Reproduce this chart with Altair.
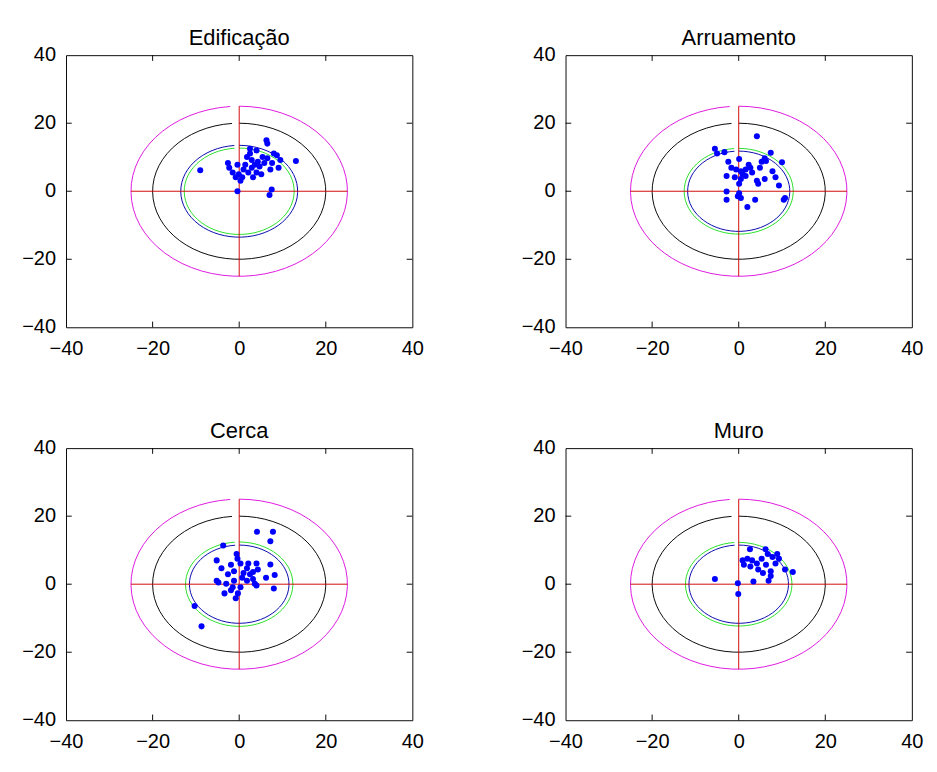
import altair as alt
import pandas as pd

PANELS = ["Edificação", "Arruamento", "Cerca", "Muro"]

# --- scatter values ---
edif_x = [6.3, 6.5, -9.0, 13.1, -0.4, 7.5, 7.0, -2.6, -2.3, -1.5, 0.3, 0.7, -0.8, 2.5, 4.0,
          1.8, 2.9, 1.4, 2.9, 4.0, 5.1, 5.8, 6.5, 4.3, 5.4, 8.0, 8.7, 9.5, 9.1, 1.0, 2.1,
          3.2, -0.1, -0.4, 7.6, 4.7, 7.2, 3.6, 2.5]
edif_y = [15.0, 14.0, 6.2, 8.9, 0.0, 0.5, -1.1, 8.3, 6.9, 5.5, 3.1, 4.1, 4.1, 12.5, 12.0,
          10.1, 9.2, 7.8, 6.9, 5.5, 5.0, 8.3, 9.7, 8.7, 10.1, 11.1, 10.6, 9.2, 6.9, 6.4, 5.5,
          4.1, 5.0, 7.8, 8.3, 7.3, 6.4, 7.8, 11.1]

arru_x = [4.2, -5.5, -3.3, -5.0, 7.4, 10.0, 6.0, -2.4, 0.1, 2.3, 1.6, 0.5, -0.6, -1.7,
          -2.8, -0.9, 0.5, 1.6, 0.1, 0.9, 3.1, 2.7, 4.9, 6.3, 7.8, 8.5, 9.3, 10.4, 10.7,
          6.0, 4.5, 4.2, 3.8, 2.0, 0.1, -0.2, 0.5, -2.8, -2.8, 5.3]
arru_y = [16.2, 12.5, 11.5, 11.1, 11.3, 8.5, 9.7, 8.7, 9.5, 7.8, 6.4, 5.9, 6.4, 6.9,
          4.5, 4.1, 3.6, 4.5, 2.2, 5.0, 5.5, 6.9, 6.9, 8.9, 5.9, 4.1, 1.7, -2.5, -2.0,
          3.6, 2.2, 3.1, -2.5, -4.6, -0.6, -1.5, -2.0, -0.1, -2.5, 8.7]

cerca_x = [4.1, 7.8, 7.2, -3.7, -8.7, -10.3, 7.2, 8.2, 8.0, -5.2, -0.6, -0.4, -4.1, -5.2,
           -4.8, -3.4, -1.9, -0.8, -0.3, 0.3, 2.1, 4.0, 4.3, 6.2, 3.6, 3.2, 1.8, 1.0, -1.2,
           -2.6, -1.9, 0.7, -1.2, -3.0, 2.5, 1.8, 3.2, 4.0, -1.5, 0.3]
cerca_y = [15.4, 15.4, 12.6, 11.4, -12.4, -6.4, 5.8, 2.7, -1.3, 7.0, 8.9, 7.5, 4.7, 1.0,
           0.5, -2.7, -1.8, -4.1, -2.7, 6.1, 6.1, 6.1, 4.3, 1.9, 0.1, 1.5, 1.0, 3.3, 3.8,
           2.9, 5.7, 1.9, 1.0, 0.1, 2.9, 4.7, 3.6, -0.4, -0.9, -0.9]

muro_x = [-5.5, -0.2, -0.1, 3.4, 6.9, 2.6, 6.2, 8.9, 10.7, 12.5, 2.0, 1.2, 2.7, 4.2, 5.3,
          4.5, 6.3, 7.8, 7.4, 8.5, 7.4, 3.1, 0.9, 5.6, 9.3, 6.7]
muro_y = [1.5, 0.3, -2.9, 0.8, 1.0, 10.3, 10.3, 8.9, 4.3, 3.6, 7.5, 5.7, 5.2, 6.1, 7.5,
          4.3, 5.7, 8.0, 3.8, 6.1, 2.4, 7.0, 7.0, 3.3, 7.5, 8.9]

POINTS_X = [edif_x, arru_x, cerca_x, muro_x]
POINTS_Y = [edif_y, arru_y, cerca_y, muro_y]

# --- reference rings (radii) and cross ---
MAGENTA_R = [25, 25, 25, 25]
BLACK_R = [20, 20, 20, 20]
BLUE_R = [13.5, 11.8, 11.5, 11.5]
GREEN_R = [12.7, 12.6, 12.4, 12.3]
CROSS_X1 = [-25, 0]
CROSS_X2 = [25, 0]
CROSS_Y1 = [0, -25]
CROSS_Y2 = [0, 25]

AXIS_TICKS = [-40, -20, 0, 20, 40]
INNER_TICKS = [-20, 0, 20]
DOMAIN = [-40, 40]

W, H = 364, 286
FONT = "Liberation Sans"

xscale = alt.Scale(domain=DOMAIN, nice=False, zero=False)
yscale = alt.Scale(domain=DOMAIN, nice=False, zero=False)
axis_common = dict(values=AXIS_TICKS, title=None, grid=False, ticks=False, domain=False,
                   labelFlush=False, labelOverlap=False,
                   labelFont=FONT, labelFontSize=21, labelColor="black")
xaxis = alt.Axis(labelPadding=12, **axis_common)
yaxis = alt.Axis(labelPadding=11, **axis_common)


def X(field):
    return alt.X(field, type="quantitative", scale=xscale, axis=xaxis)


def Y(field):
    return alt.Y(field, type="quantitative", scale=yscale, axis=yaxis)


def ring(r, color):
    return (
        alt.Chart(alt.sequence(0, 6.25, 0.1, as_="t"))
        .transform_calculate(rx=f"{r}*sin(datum.t)", ry=f"{r}*cos(datum.t)")
        .mark_line(color=color, strokeWidth=1)
        .encode(x=X("rx"), y=Y("ry"), order=alt.Order("t:Q"))
    )


def panel(i):
    rings = [
        ring(MAGENTA_R[i], "#dd11dd"),
        ring(BLACK_R[i], "#000000"),
        ring(GREEN_R[i], "#22dd22"),
        ring(BLUE_R[i], "#0000aa"),
    ]
    cross_df = pd.DataFrame({"x1": CROSS_X1, "x2": CROSS_X2, "y1": CROSS_Y1, "y2": CROSS_Y2})
    cross = alt.Chart(cross_df).mark_rule(color="#d00000", strokeWidth=1).encode(
        x=X("x1"), x2="x2", y=Y("y1"), y2="y2"
    )
    tdf = pd.DataFrame({"v": INNER_TICKS})
    tb = alt.Chart(tdf).mark_rule(color="black").encode(x=X("v"), y=alt.value(H), y2=alt.value(H - 6))
    tt = alt.Chart(tdf).mark_rule(color="black").encode(x=X("v"), y=alt.value(0), y2=alt.value(6))
    tl = alt.Chart(tdf).mark_rule(color="black").encode(y=Y("v"), x=alt.value(0), x2=alt.value(6))
    tr = alt.Chart(tdf).mark_rule(color="black").encode(y=Y("v"), x=alt.value(W), x2=alt.value(W - 6))
    pdf = pd.DataFrame({"px": POINTS_X[i], "py": POINTS_Y[i]})
    pts = alt.Chart(pdf).mark_circle(size=40, color="#0000ff", opacity=1).encode(x=X("px"), y=Y("py"))
    return alt.layer(*rings, cross, tb, tt, tl, tr, pts).properties(
        width=W,
        height=H,
        title=alt.TitleParams(PANELS[i], fontSize=23, font=FONT, fontWeight="normal",
                              color="black", offset=-5),
    )


row1 = alt.hconcat(panel(0), panel(1), spacing=100)
row2 = alt.hconcat(panel(2), panel(3), spacing=100)
chart = (
    alt.vconcat(row1, row2, spacing=63)
    .properties(padding={"left": 13, "top": 0, "right": 5, "bottom": 5})
    .configure(background="white")
    .configure_view(stroke="black", strokeWidth=1)
)

chart.save("out.html", embed_options={"renderer": "svg", "actions": False})
